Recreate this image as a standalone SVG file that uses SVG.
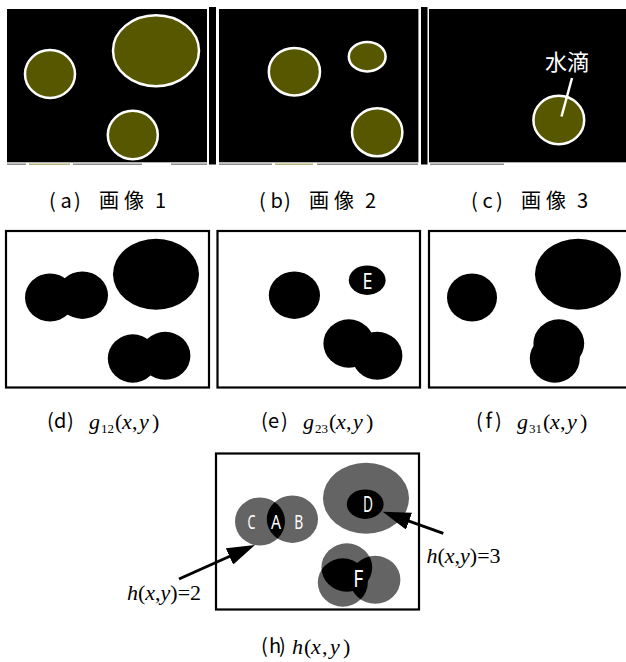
<svg xmlns="http://www.w3.org/2000/svg" width="626" height="662" viewBox="0 0 626 662">
<style>
.bg{fill:#000}
.drop{fill:#575700;stroke:#fff;stroke-width:2.5}
.blk{fill:#000}
.frame{fill:#fff;stroke:#000;stroke-width:2.2}
.gr{fill:#646464}
.cap{font-family:"Noto Sans CJK JP","Noto Sans",sans-serif;font-size:20px;fill:#000}
.m{font-family:"Liberation Serif","Times New Roman",serif;font-size:22px;fill:#000}
.i{font-style:italic}
.lt{font-family:"Noto Sans","Liberation Sans",sans-serif;fill:#fff}
.conn{stroke:#000;stroke-width:3;fill:none}
.art{stroke-width:1.5;fill:none}
</style>
<defs>
<marker id="ah" markerUnits="userSpaceOnUse" markerWidth="30" markerHeight="18" refX="6" refY="9" orient="auto">
<path d="M0,0 L28,9 L0,18 z" fill="#000"/>
</marker>
<clipPath id="cL1"><ellipse cx="260" cy="521.5" rx="25" ry="24"/></clipPath>
<clipPath id="cW3"><ellipse cx="346.8" cy="567.5" rx="25.4" ry="24.2"/></clipPath>
<clipPath id="cD2"><ellipse cx="375.2" cy="579.8" rx="25.2" ry="24"/></clipPath>
</defs>

<!-- top row: images -->
<g id="img1">
<rect class="bg" x="7" y="9" width="200" height="153.3"/>
<ellipse class="drop" cx="50" cy="74" rx="25" ry="24"/>
<ellipse class="drop" cx="156" cy="50.7" rx="43" ry="35.5"/>
<ellipse class="drop" cx="132.8" cy="135" rx="25" ry="24.2"/>
</g>
<g id="img2">
<rect class="bg" x="219" y="9" width="199.4" height="153.3"/>
<ellipse class="drop" cx="294.4" cy="71.7" rx="25.6" ry="23.7"/>
<ellipse class="drop" cx="367.2" cy="56.7" rx="18.4" ry="14.7"/>
<ellipse class="drop" cx="377.2" cy="132.3" rx="25.2" ry="24"/>
</g>
<g id="img3">
<rect class="bg" x="429" y="9" width="197" height="153.3"/>
<ellipse class="drop" cx="558.8" cy="120" rx="25.4" ry="24.2"/>
<line x1="572" y1="78" x2="561.5" y2="116.5" stroke="#fff" stroke-width="2.5"/>
<text class="cap" x="567" y="70" style="fill:#fff;font-size:22px" text-anchor="middle">水滴</text>
</g>
<g id="bars">
<rect class="bg" x="209" y="7" width="7" height="157.5"/>
<rect class="bg" x="421" y="7" width="6.5" height="157.5"/>
</g>
<g id="artifacts" class="art">
<path d="M7,164.3H26M73,164.3H142M171,164.3H207M219,164.3H272M317,164.3H418M430,164.3H504" stroke="#8c8c8c"/>
<path d="M29,164.3H70M275,164.3H313" stroke="#b4b47a"/>
</g>

<g id="labels-top">
<text class="cap" x="49 60.5 74 99 124 155" y="208">(a)画像1</text>
<text class="cap" x="259 270.5 284 309 334 365" y="208">(b)画像2</text>
<text class="cap" x="471 482.5 496 521 546 577" y="208">(c)画像3</text>
</g>

<!-- second row -->
<g id="g12">
<rect class="frame" x="6" y="231" width="203" height="156.5"/>
<ellipse class="blk" cx="50" cy="297.5" rx="25" ry="24"/>
<ellipse class="blk" cx="82.4" cy="295.2" rx="25.6" ry="23.7"/>
<ellipse class="blk" cx="156" cy="274.2" rx="43" ry="35.5"/>
<ellipse class="blk" cx="132.8" cy="358.5" rx="25" ry="24.2"/>
<ellipse class="blk" cx="165.2" cy="355.8" rx="25.2" ry="24"/>
</g>
<g id="g23">
<rect class="frame" x="217.5" y="231" width="202.5" height="156.5"/>
<ellipse class="blk" cx="294.4" cy="295.2" rx="25.6" ry="23.7"/>
<ellipse class="blk" cx="367.2" cy="280.2" rx="18.4" ry="14.7"/>
<ellipse class="blk" cx="377.2" cy="355.8" rx="25.2" ry="24"/>
<ellipse class="blk" cx="348.8" cy="343.5" rx="25.4" ry="24.2"/>
<text class="lt" x="362.5" y="288.5" font-size="22" textLength="10" lengthAdjust="spacingAndGlyphs">E</text>
</g>
<g id="g31">
<rect class="frame" x="429" y="231" width="210" height="156.5"/>
<ellipse class="blk" cx="472" cy="297.5" rx="25" ry="24"/>
<ellipse class="blk" cx="578" cy="274.2" rx="43" ry="35.5"/>
<ellipse class="blk" cx="554.8" cy="358.5" rx="25" ry="24.2"/>
<ellipse class="blk" cx="558.8" cy="343.5" rx="25.4" ry="24.2"/>
</g>

<g id="labels-mid">
<text class="cap" x="47 54 67" y="428">(d)</text>
<text class="m" y="429"><tspan class="i" x="89">g</tspan><tspan x="101" dy="4" font-size="13">12</tspan><tspan x="115" dy="-4">(</tspan><tspan class="i" x="122">x</tspan><tspan x="132">,</tspan><tspan class="i" x="139">y</tspan><tspan x="152">)</tspan></text>
<text class="cap" x="261 268 281" y="428">(e)</text>
<text class="m" y="429"><tspan class="i" x="303">g</tspan><tspan x="315" dy="4" font-size="13">23</tspan><tspan x="329" dy="-4">(</tspan><tspan class="i" x="336">x</tspan><tspan x="346">,</tspan><tspan class="i" x="353">y</tspan><tspan x="366">)</tspan></text>
<text class="cap" x="476 485.5 495" y="428">(f)</text>
<text class="m" y="429"><tspan class="i" x="517">g</tspan><tspan x="529" dy="4" font-size="13">31</tspan><tspan x="543" dy="-4">(</tspan><tspan class="i" x="550">x</tspan><tspan x="560">,</tspan><tspan class="i" x="567">y</tspan><tspan x="580">)</tspan></text>
</g>

<!-- h panel -->
<g id="h">
<rect class="frame" x="216" y="453.5" width="203" height="156"/>
<ellipse class="gr" cx="260" cy="521.5" rx="25" ry="24"/>
<ellipse class="gr" cx="292.4" cy="519.2" rx="25.6" ry="23.7"/>
<ellipse class="gr" cx="366" cy="498.2" rx="43" ry="35.5"/>
<ellipse class="gr" cx="342.8" cy="582.5" rx="25" ry="24.2"/>
<ellipse class="gr" cx="375.2" cy="579.8" rx="25.2" ry="24"/>
<ellipse class="gr" cx="346.8" cy="567.5" rx="25.4" ry="24.2"/>
</g>
<g id="regionA">
<ellipse class="blk" cx="292.4" cy="519.2" rx="25.6" ry="23.7" clip-path="url(#cL1)"/>
<text class="lt" x="271" y="528.5" font-size="20" textLength="10" lengthAdjust="spacingAndGlyphs">A</text>
</g>
<g id="regionC"><text class="lt" x="247.5" y="528.5" font-size="20" textLength="8" lengthAdjust="spacingAndGlyphs">C</text></g>
<g id="regionB"><text class="lt" x="294.3" y="528.5" font-size="20" textLength="9" lengthAdjust="spacingAndGlyphs">B</text></g>
<g id="regionD">
<ellipse class="blk" cx="365.2" cy="504.2" rx="18.4" ry="14.7"/>
<text class="lt" x="363" y="511.7" font-size="21" textLength="10" lengthAdjust="spacingAndGlyphs">D</text>
</g>
<g id="regionF">
<ellipse class="blk" cx="342.8" cy="582.5" rx="25" ry="24.2" clip-path="url(#cW3)"/>
<ellipse class="blk" cx="342.8" cy="582.5" rx="25" ry="24.2" clip-path="url(#cD2)"/>
<ellipse class="blk" cx="375.2" cy="579.8" rx="25.2" ry="24" clip-path="url(#cW3)"/>
<text class="lt" x="353.3" y="586.5" font-size="23" textLength="10" lengthAdjust="spacingAndGlyphs">F</text>
</g>

<g id="connectors">
<path class="conn" d="M179,579 L234.9,554" marker-end="url(#ah)"/>
<path class="conn" d="M443.3,533.3 L403.4,519.1" marker-end="url(#ah)"/>
</g>

<g id="hlabels">
<text class="m" x="127" y="600"><tspan class="i">h</tspan>(<tspan class="i">x</tspan>,<tspan class="i">y</tspan>)=2</text>
<text class="m" x="426.5" y="563"><tspan class="i">h</tspan>(<tspan class="i">x</tspan>,<tspan class="i">y</tspan>)=3</text>
<text class="cap" x="261 269 279" y="653">(h)</text>
<text class="m" y="654"><tspan class="i" x="292">h</tspan><tspan x="304">(</tspan><tspan class="i" x="311">x</tspan><tspan x="322">,</tspan><tspan class="i" x="330">y</tspan><tspan x="343">)</tspan></text>
</g>
</svg>
